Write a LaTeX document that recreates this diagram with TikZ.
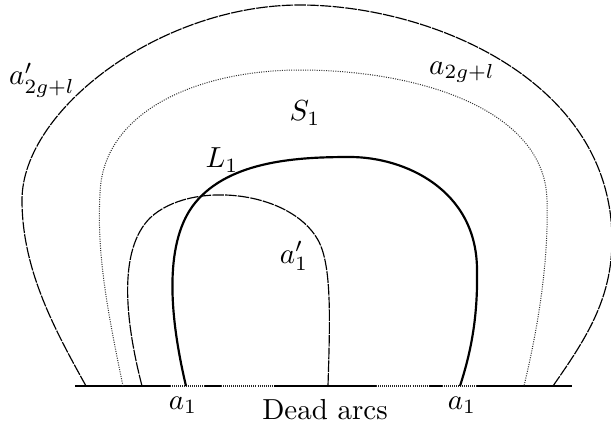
\documentclass[tikz,border=0pt]{standalone}
\usepackage{tikz}

\begin{document}
\begin{tikzpicture}[
        x=0.345pt, y=-0.345pt,
        base/.style={line width=0.75pt},
        gap/.style={line width=0.35pt, dash pattern=on 0.3pt off 0.4pt, black!85},
        curveL/.style={line width=0.75pt},
        curveA/.style={line width=0.4pt, dash pattern=on 4pt off 0.4pt},
        curveB/.style={line width=0.35pt, dash pattern=on 0.35pt off 0.45pt, black!80},
        lbl/.style={inner sep=0pt}
    ]
    \useasboundingbox (0,0) rectangle (611,428);
    % points on the boundary line
    \coordinate (p0) at (75,386);
    \coordinate (p1) at (170,386);
    \coordinate (p2) at (205,386);
    \coordinate (p3) at (221,386);
    \coordinate (p4) at (274,386);
    \coordinate (p5) at (376,386);
    \coordinate (p6) at (429,386);
    \coordinate (p7) at (442,386);
    \coordinate (p8) at (477,386);
    \coordinate (p9) at (572,386);
    \draw[base] (p0) -- (p1);
    \draw[gap] (p1) -- (p2);
    \draw[base] (p2) -- (p3);
    \draw[gap] (p3) -- (p4);
    \draw[base] (p4) -- (p5);
    \draw[gap] (p5) -- (p6);
    \draw[base] (p6) -- (p7);
    \draw[gap] (p7) -- (p8);
    \draw[base] (p8) -- (p9);
    % curves
    \draw[curveA] (86,386) .. controls (55,330) and (22,270) .. (22,200)
        .. controls (22,110) and (160,5) .. (300,5)
        .. controls (430,5) and (612,80) .. (612,240)
        .. controls (612,300) and (585,340) .. (553,386);
    \draw[curveB] (123,386) .. controls (105,300) and (97,250) .. (100,193)
        .. controls (103,110) and (200,70) .. (300,70)
        .. controls (420,70) and (545,110) .. (547,200)
        .. controls (549,270) and (535,340) .. (524,386);
    \draw[curveA] (142,386) .. controls (125,320) and (118,250) .. (150,218)
        .. controls (190,180) and (290,190) .. (318,240)
        .. controls (332,265) and (330,320) .. (328,386);
    \draw[curveL] (186,386) .. controls (168,310) and (165,240) .. (195,203)
        .. controls (230,160) and (300,157) .. (350,157)
        .. controls (405,157) and (477,190) .. (477,270)
        .. controls (478,320) and (470,355) .. (460,386);
    % labels
    \node[lbl] (aout) at (42,80) {$a'_{2g+l}$};
    \node[lbl] (ain) at (462,72) {$a_{2g+l}$};
    \node[lbl] (s1) at (305,113) {$S_1$};
    \node[lbl] (l1) at (222,160) {$L_1$};
    \node[lbl] (a1p) at (294,256) {$a'_1$};
    \node[lbl] (a1l) at (183,405) {$a_1$};
    \node[lbl] (dead) at (325,410) {Dead arcs};
    \node[lbl] (a1r) at (462,405) {$a_1$};
\end{tikzpicture}
\end{document}
